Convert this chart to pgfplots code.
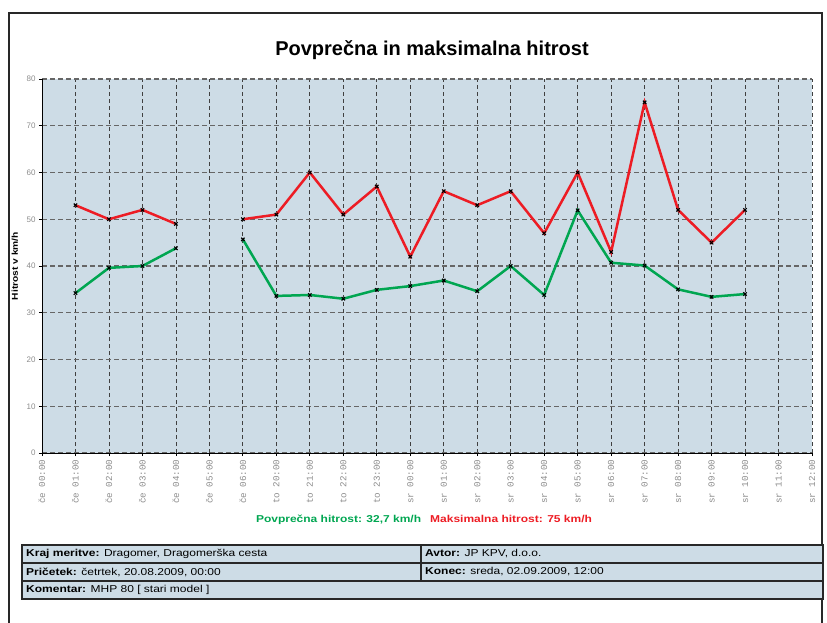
\documentclass[border=0pt]{standalone}
\usepackage{pgfplots}
\pgfplotsset{compat=1.18}
\usepackage{fontspec}
\setmainfont{Liberation Sans}
\newfontfamily\monofont{Liberation Mono}
\newfontfamily\widefont[FakeStretch=1.2]{Liberation Sans}
\definecolor{plotbg}{RGB}{205,220,230}
\definecolor{maxred}{RGB}{237,28,36}
\definecolor{avggreen}{RGB}{0,166,81}
\definecolor{labgray}{RGB}{140,140,140}
\definecolor{frameC}{RGB}{40,40,40}

\begin{document}
\begin{tikzpicture}
\useasboundingbox (0pt,0pt) rectangle (827pt,622pt);
% outer frame (cut at the bottom)
\draw[line width=2pt, frameC] (9pt,-5pt) -- (9pt,609pt) -- (822pt,609pt) -- (822pt,-5pt);

\node[font=\bfseries\fontsize{20}{22}\selectfont] at (432pt,572pt) {Povprečna in maksimalna hitrost};

\begin{axis}[
    at={(42pt,169pt)}, anchor=south west,
    scale only axis, width=770pt, height=374pt,
    xmin=0, xmax=23, ymin=0, ymax=80,
    axis background/.style={fill=plotbg},
    axis x line*=bottom, axis y line*=left,
    axis line style={black, line width=0.9pt, -},
    xtick={0,...,23},
    xticklabels={če 00:00,če 01:00,če 02:00,če 03:00,če 04:00,če 05:00,če 06:00,
                 to 20:00,to 21:00,to 22:00,to 23:00,
                 sr 00:00,sr 01:00,sr 02:00,sr 03:00,sr 04:00,sr 05:00,sr 06:00,
                 sr 07:00,sr 08:00,sr 09:00,sr 10:00,sr 11:00,sr 12:00},
    ytick={0,10,...,80},
    tick align=outside, major tick length=3pt,
    tick style={black, line width=0.8pt},
    /pgf/number format/assume math mode=true,
    x tick label style={rotate=90, anchor=east, text=labgray,
        font=\monofont\fontsize{9.2}{10}\selectfont},
    y tick label style={text=labgray, font=\fontsize{8}{9}\selectfont},
    xmajorgrids, ymajorgrids,
    x grid style={black!75, dash pattern=on 4pt off 3pt, line width=0.8pt},
    y grid style={black!60, dash pattern=on 5pt off 3pt, line width=1.1pt},
    unbounded coords=jump,
    clip=false,
]
% maksimalna hitrost
\addplot[maxred, line width=2.5pt, mark=x, mark size=2.4pt,
    mark options={black, solid, line width=1.1pt}]
  coordinates {(1,53)(2,50)(3,52)(4,49)(5,nan)(6,50)(7,51)(8,60)(9,51)(10,57)
               (11,42)(12,56)(13,53)(14,56)(15,47)(16,60)(17,43)(18,75)(19,52)
               (20,45)(21,52)};
% povprecna hitrost
\addplot[avggreen, line width=2.5pt, mark=x, mark size=2.4pt,
    mark options={black, solid, line width=1.1pt}]
  coordinates {(1,34.2)(2,39.6)(3,40)(4,43.8)(5,nan)(6,45.7)(7,33.6)(8,33.8)(9,33)
               (10,34.9)(11,35.7)(12,36.9)(13,34.6)(14,40)(15,33.8)(16,51.9)
               (17,40.7)(18,40.1)(19,35)(20,33.4)(21,34)};
\end{axis}

\node[rotate=90, font=\widefont\bfseries\fontsize{8.5}{10}\selectfont] at (15pt,356pt) {Hitrost v km/h};

\node[font=\widefont\bfseries\fontsize{10}{12}\selectfont] at (424pt,102pt)
  {\textcolor{avggreen}{Povprečna hitrost: 32,7 km/h}\hspace{9pt}\textcolor{maxred}{Maksimalna hitrost: 75 km/h}};

% info table
\fill[plotbg] (22pt,23pt) rectangle (823pt,77pt);
\draw[frameC, line width=1.3pt] (22pt,23pt) rectangle (823pt,77pt);
\draw[frameC, line width=1.3pt] (22pt,59pt) -- (823pt,59pt);
\draw[frameC, line width=1.3pt] (22pt,41pt) -- (823pt,41pt);
\draw[frameC, line width=1.3pt] (421pt,41pt) -- (421pt,77pt);
\begin{scope}[every node/.style={anchor=west, font=\widefont\fontsize{10}{11}\selectfont, inner sep=0pt}]
\node at (26pt,68pt) {\textbf{Kraj meritve:} Dragomer, Dragomerška cesta};
\node at (425pt,68pt) {\textbf{Avtor:} JP KPV, d.o.o.};
\node at (26pt,50pt) {\textbf{Pričetek:} četrtek, 20.08.2009, 00:00};
\node at (425pt,50pt) {\textbf{Konec:} sreda, 02.09.2009, 12:00};
\node at (26pt,32pt) {\textbf{Komentar:} MHP 80 [ stari model ]};
\end{scope}
\end{tikzpicture}
\end{document}
